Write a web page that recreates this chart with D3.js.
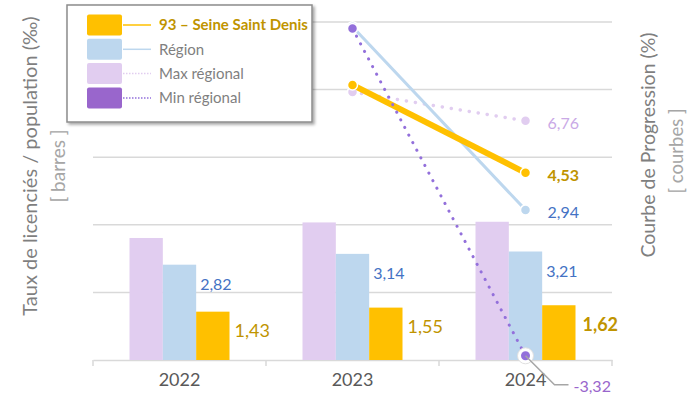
<!DOCTYPE html>
<html>
<head>
<meta charset="utf-8">
<script src="https://cdn.jsdelivr.net/npm/d3@7"></script>
<style>
  body { margin: 0; background: #fff; }
  svg { font-family: "Lato", "Open Sans", sans-serif; }
</style>
</head>
<body>
<div id="my_dataviz"></div>
<script>
// data
var years = ['2022', '2023', '2024']
var tauxMax = [3.61, 4.07, 4.09]
var tauxRegion = [2.82, 3.14, 3.21]
var taux93 = [1.43, 1.55, 1.62]

var progYears = ['2023', '2024']
var prog93 = [8.3, 4.53]
var progRegion = [10.8, 2.94]
var progMax = [8.0, 6.76]
var progMin = [10.72, -3.32]

var legendLabels = ['93 – Seine Saint Denis', 'Région', 'Max régional', 'Min régional']

var width = 687, height = 405
var pLeft = 93, pRight = 612, pTop = 22, pBottom = 360

var yellow = '#FFC000', yellowTxt = '#C09400'
var blue = '#BDD7EE', blueTxt = '#4472C4'
var lav = '#E1CDF0', lavTxt = '#C9A9E6'
var purple = '#9370DB', purpleTxt = '#9966CC'

var svg = d3.select('#my_dataviz')
  .append('svg')
  .attr('width', width)
  .attr('height', height)

var x = d3.scaleBand().domain(years).range([pLeft, pRight])
var xSub = d3.scaleBand().domain(['max', 'region', 'd93'])
  .range([x.bandwidth() / 2 - 50, x.bandwidth() / 2 + 50])
var yBar = d3.scaleLinear().domain([0, 10]).range([pBottom, pTop])
var yLine = d3.scaleLinear().domain([-3.5, 11]).range([pBottom, pTop])

// gridlines
svg.append('g')
  .selectAll('line')
  .data(yBar.ticks(5).filter(function(d) { return d > 0 }))
  .enter().append('line')
  .attr('x1', pLeft).attr('x2', pRight)
  .attr('y1', function(d) { return yBar(d) })
  .attr('y2', function(d) { return yBar(d) })
  .attr('stroke', '#d9d9d9').attr('stroke-width', 1.5)

// x axis with ticks between categories
var xAxis = d3.axisBottom(x).tickSize(0).tickPadding(20)
var gx = svg.append('g').attr('transform', 'translate(0,' + pBottom + ')').call(xAxis)
gx.select('.domain').attr('stroke', '#d9d9d9').attr('stroke-width', 1.5)
gx.selectAll('text').attr('font-size', 18).attr('fill', '#595959')
  .attr('font-family', 'Lato').attr('dy', '0.32em')
gx.selectAll('.sep')
  .data([pLeft].concat(years.map(function(d) { return x(d) + x.bandwidth() })))
  .enter().append('line')
  .attr('x1', function(d) { return d }).attr('x2', function(d) { return d })
  .attr('y1', 0).attr('y2', 6)
  .attr('stroke', '#d9d9d9').attr('stroke-width', 1.5)

// bars
var series = [
  {key: 'max', vals: tauxMax, color: lav},
  {key: 'region', vals: tauxRegion, color: blue},
  {key: 'd93', vals: taux93, color: yellow}
]
series.forEach(function(s) {
  svg.append('g').selectAll('rect')
    .data(s.vals)
    .enter().append('rect')
    .attr('x', function(d, i) { return x(years[i]) + xSub(s.key) })
    .attr('width', xSub.bandwidth())
    .attr('y', function(d) { return yBar(d) })
    .attr('height', function(d) { return pBottom - yBar(d) })
    .attr('fill', s.color)
})

// french decimals, plain hyphen for negatives
var fmt = function(v) { return d3.format('.2f')(v).replace('.', ',').replace('\u2212', '-') }

// bar labels
svg.append('g').selectAll('text')
  .data(tauxRegion)
  .enter().append('text')
  .attr('x', function(d, i) { return x(years[i]) + xSub('region') + xSub.bandwidth() + 4 })
  .attr('y', function(d) { return yBar(d) + 20 })
  .attr('dy', '0.35em')
  .attr('font-size', 16).attr('fill', blueTxt)
  .text(fmt)

svg.append('g').selectAll('text')
  .data(taux93)
  .enter().append('text')
  .attr('x', function(d, i) { return x(years[i]) + xSub('d93') + xSub.bandwidth() + (i == 2 ? 7 : 5) })
  .attr('y', function(d) { return yBar(d) + 19 })
  .attr('dy', '0.35em')
  .attr('font-size', 18).attr('fill', yellowTxt)
  .attr('font-weight', function(d, i) { return i == 2 ? 'bold' : 'normal' })
  .text(fmt)

// progression lines
var cx = function(d, i) { return x(progYears[i]) + x.bandwidth() / 2 }
function drawLine(vals, color, w, dash, r) {
  var line = d3.line()
    .x(function(d, i) { return cx(d, i) })
    .y(function(d) { return yLine(d) })
  svg.append('path')
    .datum(vals)
    .attr('d', line)
    .attr('fill', 'none')
    .attr('stroke', color)
    .attr('stroke-width', w)
    .attr('stroke-dasharray', dash)
    .attr('stroke-linecap', dash ? 'round' : 'butt')
  svg.append('g').selectAll('circle')
    .data(vals)
    .enter().append('circle')
    .attr('cx', cx)
    .attr('cy', function(d) { return yLine(d) })
    .attr('r', r)
    .attr('fill', color)
    .attr('stroke', '#fff').attr('stroke-width', 1.5)
}
drawLine(progMax, lav, 3.5, '0.1 9', 5)
drawLine(progRegion, blue, 3, null, 5)
drawLine(prog93, yellow, 6, null, 5)
drawLine(progMin, purple, 3, '0.1 8.5', 5)

// halo for min 2024
var minX = cx(null, 1), minY = yLine(progMin[1])
svg.append('circle').attr('cx', minX).attr('cy', minY).attr('r', 8)
  .attr('fill', '#fff').attr('stroke', '#e0e0e0').attr('stroke-width', 1)
svg.append('circle').attr('cx', minX).attr('cy', minY).attr('r', 4.5)
  .attr('fill', purple)

// line labels (2024)
var lineLabels = [
  {v: progMax[1], color: lavTxt, bold: false},
  {v: prog93[1], color: yellowTxt, bold: true},
  {v: progRegion[1], color: blueTxt, bold: false}
]
svg.append('g').selectAll('text')
  .data(lineLabels)
  .enter().append('text')
  .attr('x', minX + 22)
  .attr('y', function(d) { return yLine(d.v) + 2.5 })
  .attr('dy', '0.35em')
  .attr('font-size', 16)
  .attr('font-weight', function(d) { return d.bold ? 'bold' : 'normal' })
  .attr('fill', function(d) { return d.color })
  .text(function(d) { return fmt(d.v) })

svg.append('polyline')
  .attr('points', [[minX, minY], [minX + 29, minY + 29], [minX + 43, minY + 29]].join(' '))
  .attr('fill', 'none').attr('stroke', '#a6a6a6').attr('stroke-width', 1.5)
svg.append('text')
  .attr('x', minX + 48).attr('y', minY + 31)
  .attr('dy', '0.35em')
  .attr('font-size', 16).attr('fill', purpleTxt)
  .text(fmt(progMin[1]))

// axis titles
function vtitle(tx, ty, str, size, color) {
  svg.append('text')
    .attr('transform', 'translate(' + tx + ',' + ty + ') rotate(-90)')
    .attr('text-anchor', 'middle')
    .attr('dy', '0.35em')
    .attr('font-size', size)
    .attr('fill', color)
    .text(str)
}
vtitle(30, 166, 'Taux de licenciés / population (‰)', 20, '#7f7f7f')
vtitle(58, 166, '[ barres ]', 19, '#a6a6a6')
vtitle(648, 145, 'Courbe de Progression (%)', 19.5, '#7f7f7f')
vtitle(677, 151, '[ courbes ]', 18.5, '#a6a6a6')

// legend
var defs = svg.append('defs')
var f = defs.append('filter').attr('id', 'shadow').attr('x', '-10%').attr('y', '-10%')
  .attr('width', '130%').attr('height', '130%')
f.append('feDropShadow').attr('dx', 2).attr('dy', 2).attr('stdDeviation', 1.5)
  .attr('flood-color', '#000').attr('flood-opacity', 0.35)

var lg = svg.append('g').attr('transform', 'translate(67,5)')
lg.append('rect').attr('width', 245).attr('height', 117)
  .attr('fill', '#fff').attr('stroke', '#8c8c8c').attr('stroke-width', 1.5)
  .attr('filter', 'url(#shadow)')

var legendItems = [
  {label: legendLabels[0], bar: yellow, line: yellow, dash: null, txt: yellowTxt, bold: true},
  {label: legendLabels[1], bar: blue, line: blue, dash: null, txt: '#7f7f7f', bold: false},
  {label: legendLabels[2], bar: lav, line: lav, dash: '1.5 1.5', txt: '#7f7f7f', bold: false},
  {label: legendLabels[3], bar: '#9966CC', line: purple, dash: '1.5 1.5', txt: '#7f7f7f', bold: false}
]
var row = lg.selectAll('.row')
  .data(legendItems)
  .enter().append('g')
  .attr('transform', function(d, i) { return 'translate(0,' + (20 + i * 24.3) + ')' })
row.append('rect')
  .attr('x', 20).attr('y', -10.5).attr('width', 35).attr('height', 21).attr('rx', 2)
  .attr('fill', function(d) { return d.bar })
row.append('line')
  .attr('x1', 56).attr('x2', 84).attr('y1', 0).attr('y2', 0)
  .attr('stroke', function(d) { return d.line })
  .attr('stroke-width', 1.5)
  .attr('stroke-dasharray', function(d) { return d.dash })
row.append('text')
  .attr('x', 92).attr('y', 0).attr('dy', '0.35em')
  .attr('font-size', 15)
  .attr('font-weight', function(d) { return d.bold ? 'bold' : 'normal' })
  .attr('fill', function(d) { return d.txt })
  .text(function(d) { return d.label })
</script>
</body>
</html>
